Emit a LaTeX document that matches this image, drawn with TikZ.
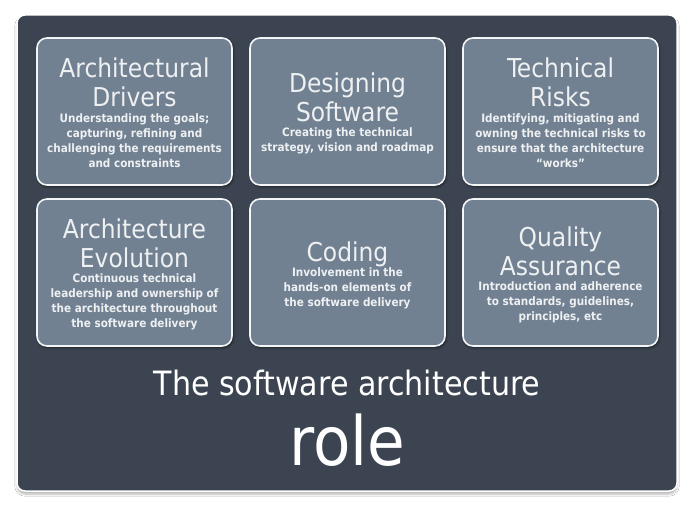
\documentclass[tikz,border=0pt]{standalone}
\usepackage{fontspec}
\setmainfont{DejaVu Sans Condensed}
\usetikzlibrary{shadows.blur}
\definecolor{panelbg}{HTML}{3B4450}
\definecolor{boxbg}{HTML}{718192}
\definecolor{txtlight}{HTML}{EEF0F2}
\begin{document}
\begin{tikzpicture}[x=1pt,y=-1pt,
  panel/.style={draw=white,line width=1.5pt,fill=panelbg,rounded corners=8pt,
    blur shadow={shadow xshift=0pt,shadow yshift=-3pt,shadow blur steps=6,shadow opacity=30}},
  rolebox/.style={draw=white!92!boxbg,line width=1.6pt,fill=boxbg,rounded corners=10pt,
    blur shadow={shadow xshift=1pt,shadow yshift=-1.5pt,shadow blur steps=4,shadow opacity=60}},
  % titles are placed by the baseline of their last line
  ttl/.style={align=center,text=txtlight,font=\fontsize{26}{29}\selectfont,
    inner sep=0pt,text depth=0pt,anchor=south},
  dsc/.style={align=center,text=txtlight,font=\bfseries\fontsize{11.6}{15}\selectfont,inner sep=0pt},
]
\useasboundingbox (0,0) rectangle (700,516);
\fill[white] (0,0) rectangle (700,516);
\draw[panel] (17,15) rectangle (677,491);

% six role boxes
\draw[rolebox] (37,38) rectangle (232,185);
\draw[rolebox] (250,38) rectangle (445,185);
\draw[rolebox] (463,38) rectangle (658,185);
\draw[rolebox] (37,199) rectangle (232,346);
\draw[rolebox] (250,199) rectangle (445,346);
\draw[rolebox] (463,199) rectangle (658,346);

% box contents
\node[ttl] (t1) at (134.5,107) {Architectural\\Drivers};
\node[dsc] (d1) at (134.5,141) {Understanding the goals;\\capturing, refining and\\challenging the requirements\\and constraints};

\node[ttl] (t2) at (347.5,121.5) {Designing\\Software};
\node[dsc] (d2) at (347.5,141) {Creating the technical\\strategy, vision and roadmap};

\node[ttl] (t3) at (560.5,107) {Technical\\Risks};
\node[dsc] (d3) at (560.5,141) {Identifying, mitigating and\\owning the technical risks to\\ensure that the architecture\\“works”};

\node[ttl] (t4) at (134.5,268) {Architecture\\Evolution};
\node[dsc] (d4) at (134.5,302) {Continuous technical\\leadership and ownership of\\the architecture throughout\\the software delivery};

\node[ttl] (t5) at (347.5,262) {Coding};
\node[dsc] (d5) at (347.5,288) {Involvement in the\\hands-on elements of\\the software delivery};

\node[ttl] (t6) at (560.5,275.5) {Quality\\Assurance};
\node[dsc] (d6) at (560.5,302) {Introduction and adherence\\to standards, guidelines,\\principles, etc};

% caption
\node[text=white,font=\fontsize{33.5}{38}\selectfont,inner sep=0pt,anchor=base] (cap1) at (347,395) {The software architecture};
\node[text=white,font=\fontsize{68}{80}\selectfont,inner sep=0pt,anchor=base] (cap2) at (347.5,465) {role};
\end{tikzpicture}
\end{document}
